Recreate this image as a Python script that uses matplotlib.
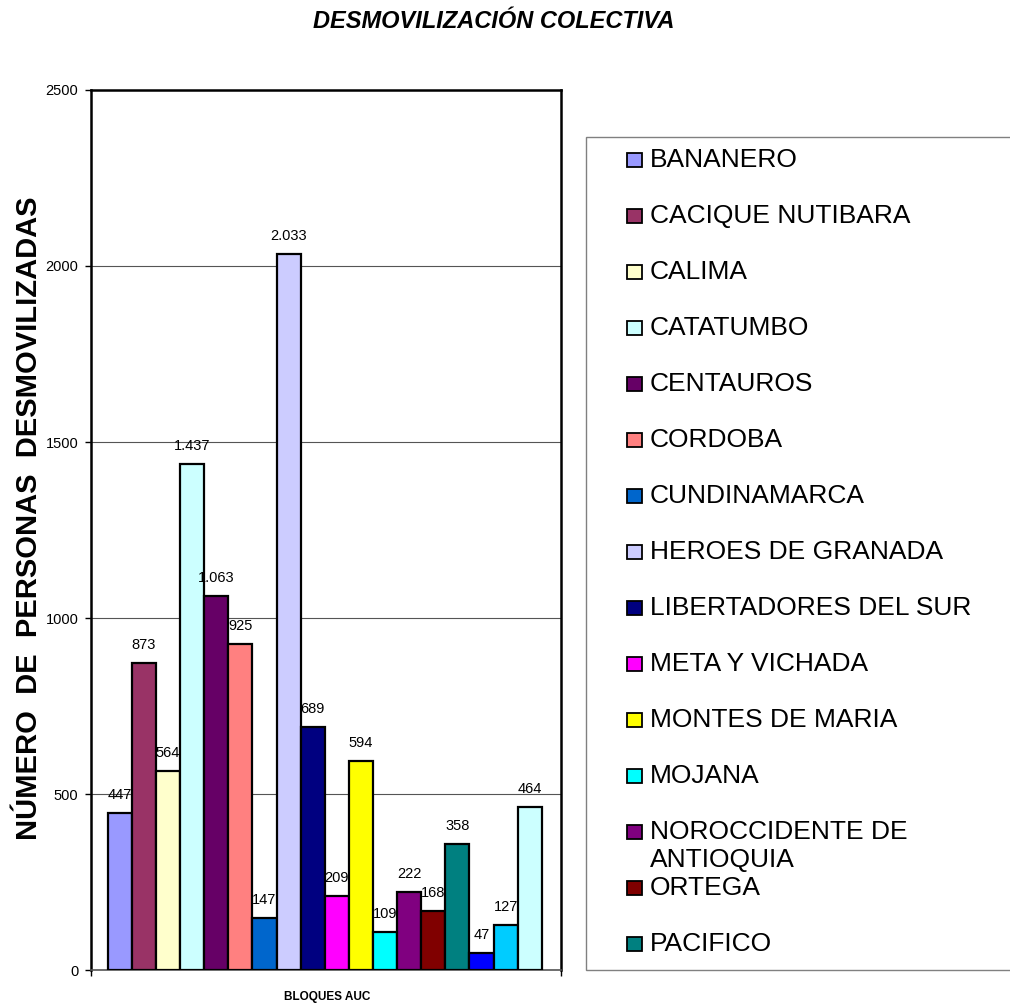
import matplotlib
matplotlib.use("Agg")

import matplotlib.pyplot as plt
import numpy as np
from matplotlib.patches import Rectangle

plt.rcParams["font.family"] = ["Liberation Sans", "DejaVu Sans"]

bloques = [
    "BANANERO", "CACIQUE NUTIBARA", "CALIMA", "CATATUMBO", "CENTAUROS",
    "CORDOBA", "CUNDINAMARCA", "HEROES DE GRANADA", "LIBERTADORES DEL SUR",
    "META Y VICHADA", "MONTES DE MARIA", "MOJANA",
    "NOROCCIDENTE DE\nANTIOQUIA", "ORTEGA", "PACIFICO",
    "PUERTO BOYACA", "SUROESTE ANTIOQUEÑO", "TOLIMA",
]
desmovilizados = [447, 873, 564, 1437, 1063, 925, 147, 2033, 689,
                  209, 594, 109, 222, 168, 358, 47, 127, 464]
colores = [
    "#9999FF", "#993366", "#FFFFCC", "#CCFFFF", "#660066", "#FF8080",
    "#0066CC", "#CCCCFF", "#000080", "#FF00FF", "#FFFF00", "#00FFFF",
    "#800080", "#800000", "#008080", "#0000FF", "#00CCFF", "#CCFFFF",
]
legend_visible = 15  # the rest of the legend falls outside the picture

W, H = 1010, 1007
fig = plt.figure(figsize=(W / 100, H / 100), dpi=100)


def fx(px):
    return px / W


def fy(py):
    return 1 - py / H


ax = fig.add_axes([fx(91), fy(970), fx(561) - fx(91), fy(90) - fy(970)])

x = np.arange(len(desmovilizados))
ax.bar(x, desmovilizados, width=1.0, color=colores, edgecolor="black",
       linewidth=1.6, zorder=3)

for xi, v in zip(x, desmovilizados):
    txt = f"{v:,}".replace(",", ".")
    ax.annotate(txt, (xi, v), xytext=(0, 8), textcoords="offset points",
                ha="center", va="bottom", fontsize=10.5, zorder=4)

ax.set_xlim(-1.2, len(x) - 0.5 + 0.8)
ax.set_ylim(0, 2500)
ax.set_yticks(np.arange(0, 2501, 500))
ax.yaxis.grid(True, color="#555555", linewidth=0.8, zorder=0)
ax.set_xticks(ax.get_xlim())
ax.set_xticklabels([])
ax.tick_params(axis="y", labelsize=10.5, length=4, width=1, pad=5,
               direction="out")
ax.tick_params(axis="x", length=4, width=1, direction="out")
for s in ax.spines.values():
    s.set_linewidth(1.8)
    s.set_color("black")
ax.spines["bottom"].set_color("#555555")
ax.spines["bottom"].set_linewidth(1.2)

fig.text(fx(327), fy(997), "BLOQUES AUC", ha="center", va="center",
         fontsize=8.5, fontweight="bold")
fig.text(fx(29), fy(518), "NÚMERO  DE  PERSONAS  DESMOVILIZADAS",
         rotation=90, ha="center", va="center", fontsize=21,
         fontweight="bold")
fig.text(fx(494), fy(22), "DESMOVILIZACIÓN COLECTIVA", ha="center",
         va="center", fontsize=17, fontweight="bold", fontstyle="italic")

# legend box (clipped by the right edge of the picture, as in the original)
fig.patches.append(Rectangle((fx(586), fy(970)), fx(440), fy(137) - fy(970),
                             transform=fig.transFigure, facecolor="white",
                             edgecolor="#808080", linewidth=1.0))
for i in range(legend_visible):
    yc = 160 + 56 * i
    fig.patches.append(Rectangle((fx(627), fy(yc + 7)), fx(15), fy(yc - 7) - fy(yc + 7),
                                 transform=fig.transFigure,
                                 facecolor=colores[i], edgecolor="black",
                                 linewidth=1.3))
    for k, line in enumerate(bloques[i].split("\n")):
        fig.text(fx(650), fy(yc + 28 * k), line, ha="left", va="center",
                 fontsize=19)

fig.savefig("out.png", dpi=100)
